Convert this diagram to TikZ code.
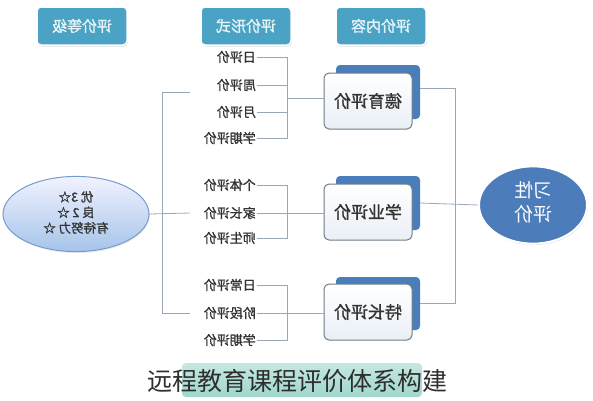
\documentclass[tikz,border=0pt]{standalone}
\usepackage{fontspec}
\setmainfont{Noto Sans CJK SC}
\newfontfamily\medfont[FakeBold=1.2]{Noto Sans CJK SC}
\usepackage{graphicx}
\usetikzlibrary{shapes.geometric,shadows}
\definecolor{hdrc}{HTML}{4AA3C4}
\definecolor{lnc}{HTML}{9AA8B5}
\definecolor{bluec}{HTML}{4A7EBB}
\definecolor{txtc}{HTML}{333333}
\definecolor{mint}{HTML}{9FD7CD}
\definecolor{boxedge}{HTML}{6F7C88}
\newcommand\mirt[1]{\reflectbox{#1}}
\begin{document}
\begin{tikzpicture}[x=1pt,y=-1pt,
  hdr/.style={rounded corners=4pt, fill=hdrc, draw=white, line width=1.5pt,
    minimum width=90pt, minimum height=38pt, text=white!88!hdrc,
    font=\medfont\fontsize{15}{17}\selectfont,
    drop shadow={opacity=0.25, shadow xshift=0.8pt, shadow yshift=-1.5pt}},
  lbl/.style={anchor=east, inner sep=1pt, text=txtc, font=\medfont\fontsize{13}{15}\selectfont},
  backbox/.style={rounded corners=4pt, fill=bluec, draw=none},
  frontbox/.style={rounded corners=5pt, top color=white, bottom color=bluec!12,
    draw=boxedge, line width=1pt, minimum width=88pt, minimum height=56pt,
    text=txtc, font=\medfont\fontsize{17}{19}\selectfont},
  conn/.style={draw=lnc, line width=0.8pt}
]
\useasboundingbox[fill=white] (0,0) rectangle (593,400);

% headers
\node[hdr] (h1) at (82,26) {\mirt{评价等级}};
\node[hdr] (h2) at (246,26) {\mirt{评价形式}};
\node[hdr] (h3) at (381,26) {\mirt{评价内容}};

% left ellipse
\node[ellipse, minimum width=146pt, minimum height=66pt, top color=blue!5!white,
  bottom color={rgb,255:red,165;green,196;blue,234}, draw={rgb,255:red,120;green,155;blue,205},
  line width=1pt, text=txtc, font=\medfont\fontsize{12.5}{15.5}\selectfont,
  drop shadow={opacity=0.15, shadow xshift=0.8pt, shadow yshift=-1.5pt}]
  (grade) at (76,214) {\mirt{\begin{tabular}{@{}c@{}}优 3☆\\良 2 ☆\\有待努力 ☆\end{tabular}}};

% content boxes
\draw[backbox] (336,65) rectangle (420,119);
\node[frontbox] (b1) at (368,101) {\mirt{德育评价}};
\draw[backbox] (336,176) rectangle (420,230);
\node[frontbox] (b2) at (368,212) {\mirt{学业评价}};
\draw[backbox] (336,277) rectangle (420,330);
\node[frontbox] (b3) at (368,312) {\mirt{特长评价}};

% right circle
\node[ellipse, minimum width=108pt, minimum height=74pt, fill={rgb,255:red,76;green,124;blue,186},
  draw=white, line width=2pt, text=white, font=\fontsize{19}{24}\selectfont,
  drop shadow={opacity=0.2, shadow xshift=0.8pt, shadow yshift=-1.5pt}]
  (hab) at (533,205) {\mirt{\begin{tabular}{@{}c@{}}习性\\评价\end{tabular}}};

% labels group 1
\node[lbl] (l11) at (257,57) {\mirt{日评价}};
\node[lbl] (l12) at (257,85) {\mirt{周评价}};
\node[lbl] (l13) at (257,112) {\mirt{月评价}};
\node[lbl] (l14) at (257,138) {\mirt{学期评价}};
% group 2
\node[lbl] (l21) at (257,185) {\mirt{个体评价}};
\node[lbl] (l22) at (257,213) {\mirt{家长评价}};
\node[lbl] (l23) at (257,238) {\mirt{师生评价}};
% group 3
\node[lbl] (l31) at (257,285) {\mirt{日常评价}};
\node[lbl] (l32) at (257,313) {\mirt{阶段评价}};
\node[lbl] (l33) at (257,340) {\mirt{学期评价}};

% coordinates
\coordinate (bx1) at (287,98);
\coordinate (t1) at (190,92);
\coordinate (t2) at (190,213);
\coordinate (t3) at (190,313);
\coordinate (busT) at (162,92);
\coordinate (busB) at (162,313);
\coordinate (rT) at (455,88);
\coordinate (rB) at (455,303);

% bracket group 1
\draw[conn] (l11.east) -- (287,57) -- (287,138) -- (l14.east);
\draw[conn] (l12.east) -- (287,85);
\draw[conn] (l13.east) -- (287,112);
\draw[conn] (bx1) -- (b1.west |- bx1);
% bracket group 2
\draw[conn] (l21.east) -- (287,185) -- (287,238) -- (l23.east);
\draw[conn] (l22.east) -- (b2.west |- l22.east);
% bracket group 3
\draw[conn] (l31.east) -- (287,285) -- (287,340) -- (l33.east);
\draw[conn] (l32.east) -- (b3.west |- l32.east);

% left bus
\draw[conn] (t1) -- (busT) -- (busB) -- (t3);
\draw[conn] (grade.east) -- (t2);

% right bus
\draw[conn] (420,88) -- (rT) -- (rB) -- (420,303);
\draw[conn] (420,203) -- (hab.west);

% caption
\draw[rounded corners=4pt, top color=mint!60!white, bottom color=mint, draw=none] (182,363) rectangle (422,397);
\node[text=txtc!90!black, font=\fontsize{25}{28}\selectfont] (cap) at (297,381) {远程教育课程评价体系构建};
\end{tikzpicture}
\end{document}
